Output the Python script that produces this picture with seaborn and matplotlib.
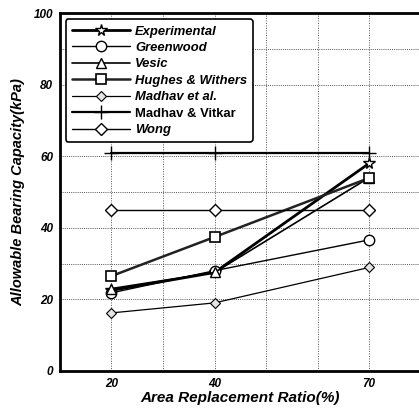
import matplotlib
matplotlib.use("Agg")
import matplotlib.pyplot as plt
import seaborn as sns
import pandas as pd

# Area replacement ratio (%) and allowable bearing capacity (kPa) per method
ratios = [20, 40, 70]
experimental = [22.5, 27.5, 58.0]
greenwood = [21.8, 28.0, 36.6]
vesic = [23.0, 27.5, 54.0]
hughes_withers = [26.5, 37.4, 53.9]
madhav_et_al = [16.2, 19.0, 28.9]
madhav_vitkar = [61.0, 61.0, 61.0]
wong = [45.0, 45.0, 45.0]

series_names = ["Experimental", "Greenwood", "Vesic", "Hughes & Withers",
                "Madhav et al.", "Madhav & Vitkar", "Wong"]
series_values = [experimental, greenwood, vesic, hughes_withers,
                 madhav_et_al, madhav_vitkar, wong]

rows = []
for name, vals in zip(series_names, series_values):
    for r, v in zip(ratios, vals):
        rows.append({"method": name, "ratio": r, "capacity": v})
df = pd.DataFrame(rows)

sns.set_theme(style="white")
plt.rcParams["font.family"] = ["Liberation Sans", "DejaVu Sans"]
plt.rcParams["text.color"] = "black"
plt.rcParams["axes.labelcolor"] = "black"
plt.rcParams["xtick.color"] = "black"
plt.rcParams["ytick.color"] = "black"

styles = {
    "Experimental":     dict(marker="*", ms=8.5, lw=2.0, mfc="white", color="black", mew=1.0),
    "Greenwood":        dict(marker="o", ms=7.5, lw=1.0, mfc="white", color="black", mew=1.0),
    "Vesic":            dict(marker="^", ms=7.5, lw=1.2, mfc="white", color="black", mew=1.0),
    "Hughes & Withers": dict(marker="s", ms=7.5, lw=1.8, mfc="white", color="#222222", mew=1.2),
    "Madhav et al.":    dict(marker="D", ms=5.5, lw=0.9, mfc="#e4e4e4", color="black", mew=0.8),
    "Madhav & Vitkar":  dict(marker="+", ms=10, lw=1.6, mfc="black", color="black", mew=1.0),
    "Wong":             dict(marker="D", ms=6, lw=1.0, mfc="white", color="black", mew=1.0),
}

fig = plt.figure(figsize=(4.19, 4.08), dpi=100)
ax = fig.add_axes([0.143, 0.091, 0.861, 0.877])

handles = []
for name in series_names:
    st = styles[name]
    sub = df[df["method"] == name]
    sns.lineplot(data=sub, x="ratio", y="capacity", ax=ax, color=st["color"],
                 linewidth=st["lw"], marker=st["marker"], markersize=st["ms"],
                 markerfacecolor=st["mfc"], markeredgecolor="black",
                 markeredgewidth=st["mew"], label=name, legend=False, zorder=3)
    handles.append(ax.lines[-1])

ax.set_xlim(10, 80)
ax.set_ylim(0, 100)
ax.set_xticks(ratios)
ax.set_yticks([0, 20, 40, 60, 80, 100])

# dotted reference grid
for gx in [20, 30, 40, 50, 60, 70]:
    ax.axvline(gx, color="#555555", lw=0.7, ls=(0, (1, 1.5)), zorder=1)
for gy in [20, 30, 40, 50, 60, 80, 90]:
    ax.axhline(gy, color="#555555", lw=0.7, ls=(0, (1, 1.2)), zorder=1)

for side in ["left", "bottom", "top"]:
    ax.spines[side].set_linewidth(2.0)
    ax.spines[side].set_color("black")
ax.spines["right"].set_visible(False)

ax.tick_params(axis="both", direction="in", length=3, width=1, color="black",
               labelsize=8.5, pad=5, labelcolor="black")
for lab in ax.get_xticklabels() + ax.get_yticklabels():
    lab.set_fontstyle("italic")
    lab.set_fontweight("bold")

ax.set_xlabel("Area Replacement Ratio(%)", fontsize=11, fontweight="bold",
              fontstyle="italic", labelpad=1, color="black")
ax.set_ylabel("Allowable Bearing Capacity(kPa)", fontsize=10.5, fontweight="bold",
              fontstyle="italic", labelpad=6, color="black")

leg = ax.legend(handles=handles, labels=series_names, loc="upper left",
                bbox_to_anchor=(0.016, 0.982), fontsize=9.4, handlelength=4.5,
                labelspacing=0.33, borderpad=0.45, handletextpad=0.35,
                borderaxespad=0.0, fancybox=True, framealpha=1, edgecolor="black")
leg.get_frame().set_linewidth(1.2)
for txt in leg.get_texts():
    txt.set_fontweight("bold")
    txt.set_color("black")
    if txt.get_text() != "Madhav & Vitkar":
        txt.set_fontstyle("italic")

fig.savefig("out.png", dpi=100, facecolor="white")
